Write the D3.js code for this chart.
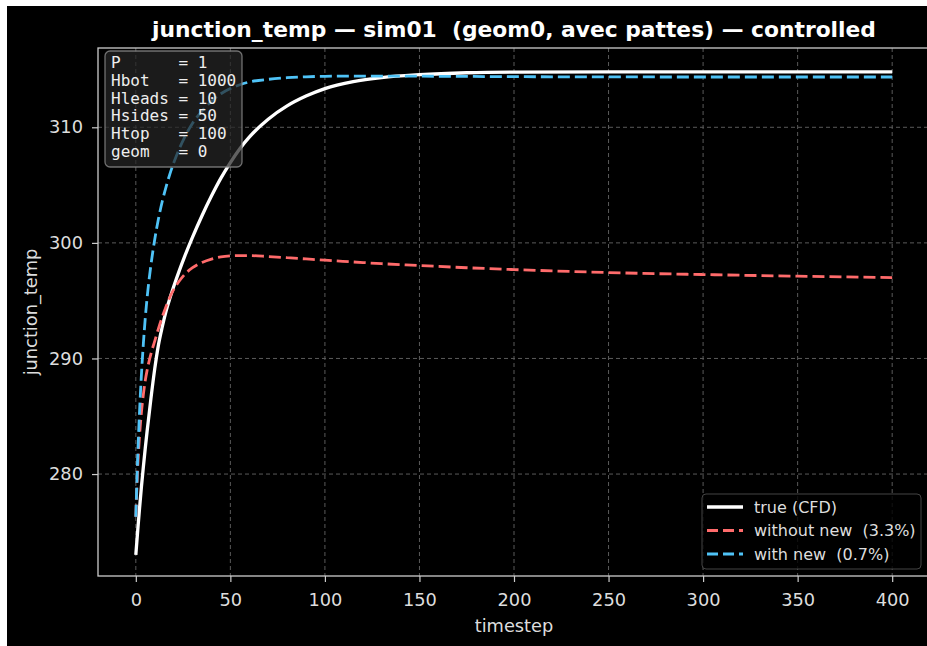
<!DOCTYPE html>
<html>
<head>
<meta charset="utf-8">
<script src="https://cdn.jsdelivr.net/npm/d3@7"></script>
<style>
  html, body { margin: 0; padding: 0; background: #fff; }
  svg { display: block; }
</style>
</head>
<body>
<svg></svg>
<script>
const svgWidth = 927;
const svgHeight = 646;

// data
const timesteps = [0, 1, 2, 3, 4, 5, 6, 8, 10, 12, 14, 16, 18, 20, 23, 26, 30, 35, 40, 45, 50, 55, 60, 70, 80, 90, 100, 115, 130, 150, 175, 200, 250, 300, 350, 400];
const trueCfd = [273.0, 275.1, 277.1, 278.95, 280.65, 282.25, 283.75, 286.55, 289.1, 291.2, 292.75, 294.1, 295.2, 296.2, 297.6, 298.9, 300.5, 302.35, 304.05, 305.6, 306.95, 308.15, 309.15, 310.7, 311.85, 312.7, 313.35, 313.95, 314.3, 314.55, 314.72, 314.78, 314.8, 314.8, 314.8, 314.8];
const withoutNew = [276.3, 280.6, 283.4, 285.4, 286.9, 288.1, 289.0, 290.4, 291.5, 292.6, 293.6, 294.5, 295.3, 295.95, 296.7, 297.3, 297.85, 298.3, 298.6, 298.78, 298.87, 298.9, 298.9, 298.82, 298.72, 298.61, 298.5, 298.35, 298.2, 298.04, 297.85, 297.69, 297.43, 297.26, 297.12, 297.0];
const withNew = [276.3, 281.5, 285.5, 288.7, 291.3, 293.5, 295.3, 298.1, 300.3, 302.1, 303.6, 304.85, 305.95, 306.9, 308.15, 309.2, 310.35, 311.4, 312.25, 312.9, 313.35, 313.68, 313.92, 314.15, 314.29, 314.37, 314.41, 314.43, 314.43, 314.42, 314.4, 314.38, 314.36, 314.35, 314.35, 314.35];

const seriesNames = ["true (CFD)", "without new  (3.3%)", "with new  (0.7%)"];
const xTicks = [0, 50, 100, 150, 200, 250, 300, 350, 400];
const yTicks = [280, 290, 300, 310];
const paramLines = ["P      = 1", "Hbot   = 1000", "Hleads = 10", "Hsides = 50", "Htop   = 100", "geom   = 0"];

const colors = ["#ffffff", "#ff6b6b", "#4fc3f7"];
const textColor = "#dddddd";

const plotLeft = 98, plotRight = 930, plotTop = 48, plotBottom = 576;

const svg = d3.select("svg")
  .attr("width", svgWidth)
  .attr("height", svgHeight)
  .style("font-family", "'DejaVu Sans', sans-serif");

// figure background (white strip top/left as in the picture)
svg.append("rect").attr("x", 7).attr("y", 6)
  .attr("width", svgWidth - 7).attr("height", svgHeight - 6)
  .attr("fill", "#000");

const x = d3.scaleLinear().domain([-20, 420]).range([plotLeft, plotRight]);
const y = d3.scaleLinear().domain([271.18, 316.86]).range([plotBottom, plotTop]);

// grid
const grid = svg.append("g")
  .attr("stroke", "#5a5a5a")
  .attr("stroke-width", 1)
  .attr("stroke-dasharray", "4,3");
grid.selectAll(".gx").data(xTicks).enter().append("line")
  .attr("x1", d => x(d)).attr("x2", d => x(d))
  .attr("y1", plotTop).attr("y2", plotBottom);
grid.selectAll(".gy").data(yTicks).enter().append("line")
  .attr("x1", plotLeft).attr("x2", plotRight)
  .attr("y1", d => y(d)).attr("y2", d => y(d));

// lines
const series = [trueCfd, withoutNew, withNew];
const line = d3.line()
  .x((d, i) => x(timesteps[i]))
  .y(d => y(d))
  .curve(d3.curveMonotoneX);

svg.selectAll(".series").data(series).enter().append("path")
  .attr("d", d => line(d))
  .attr("fill", "none")
  .attr("stroke", (d, i) => colors[i])
  .attr("stroke-width", (d, i) => i === 0 ? 3.3 : 2.8)
  .attr("stroke-dasharray", (d, i) => i === 0 ? null : "12,5");

// axes
const xAxis = svg.append("g")
  .attr("transform", `translate(0,${plotBottom})`)
  .call(d3.axisBottom(x).tickValues(xTicks).tickSize(6).tickPadding(11));
const yAxis = svg.append("g")
  .attr("transform", `translate(${plotLeft},0)`)
  .call(d3.axisLeft(y).tickValues(yTicks).tickSize(6).tickPadding(9));

[xAxis, yAxis].forEach(g => {
  g.select(".domain").remove();
  g.selectAll("line").attr("stroke", "#cccccc").attr("stroke-width", 1.2);
  g.selectAll("text").attr("fill", textColor)
    .style("font-family", "'DejaVu Sans', sans-serif")
    .style("font-size", "17.8px");
});
xAxis.selectAll("text").attr("dy", "0.73em");

// spines
svg.append("rect")
  .attr("x", plotLeft).attr("y", plotTop)
  .attr("width", plotRight - plotLeft).attr("height", plotBottom - plotTop)
  .attr("fill", "none").attr("stroke", "#cccccc").attr("stroke-width", 1.3);

// title and labels
svg.append("text")
  .attr("x", (plotLeft + plotRight) / 2).attr("y", 37)
  .attr("text-anchor", "middle")
  .attr("fill", "#ffffff")
  .style("font-weight", "bold").style("font-size", "21.8px")
  .style("white-space", "pre")
  .text("junction_temp \u2014 sim01  (geom0, avec pattes) \u2014 controlled");

svg.append("text")
  .attr("x", (plotLeft + plotRight) / 2).attr("y", 632)
  .attr("text-anchor", "middle").attr("fill", textColor)
  .style("font-size", "17.8px")
  .text("timestep");

svg.append("text")
  .attr("transform", `translate(37,${(plotTop + plotBottom) / 2}) rotate(-90)`)
  .attr("text-anchor", "middle").attr("fill", textColor)
  .style("font-size", "17.8px")
  .text("junction_temp");

// parameter box
const box = svg.append("g");
box.append("rect")
  .attr("x", 105).attr("y", 51).attr("width", 137).attr("height", 116)
  .attr("rx", 5)
  .attr("fill", "#262626").attr("fill-opacity", 0.72)
  .attr("stroke", "#8a8a8a").attr("stroke-opacity", 0.8).attr("stroke-width", 1.3);
box.selectAll("text").data(paramLines).enter().append("text")
  .attr("x", 111)
  .attr("y", (d, i) => 68 + i * 17.8)
  .attr("fill", "#eeeeee")
  .style("font-family", "'DejaVu Sans Mono', monospace")
  .style("font-size", "16px")
  .style("white-space", "pre")
  .text(d => d);

// legend
const legend = svg.append("g");
legend.append("rect")
  .attr("x", 702).attr("y", 494).attr("width", 219).attr("height", 75)
  .attr("rx", 4)
  .attr("fill", "#000").attr("fill-opacity", 0.8)
  .attr("stroke", "#444444").attr("stroke-width", 1);
const rows = legend.selectAll(".row").data(seriesNames).enter().append("g")
  .attr("transform", (d, i) => `translate(0,${507 + i * 23.5})`);
rows.append("line")
  .attr("x1", 707).attr("x2", 743).attr("y1", 0).attr("y2", 0)
  .attr("stroke", (d, i) => colors[i])
  .attr("stroke-width", (d, i) => i === 0 ? 3.3 : 2.8)
  .attr("stroke-dasharray", (d, i) => i === 0 ? null : "11,5");
rows.append("text")
  .attr("x", 754).attr("y", 5.5)
  .attr("fill", textColor)
  .style("font-size", "16px")
  .style("white-space", "pre")
  .text(d => d);
</script>
</body>
</html>
